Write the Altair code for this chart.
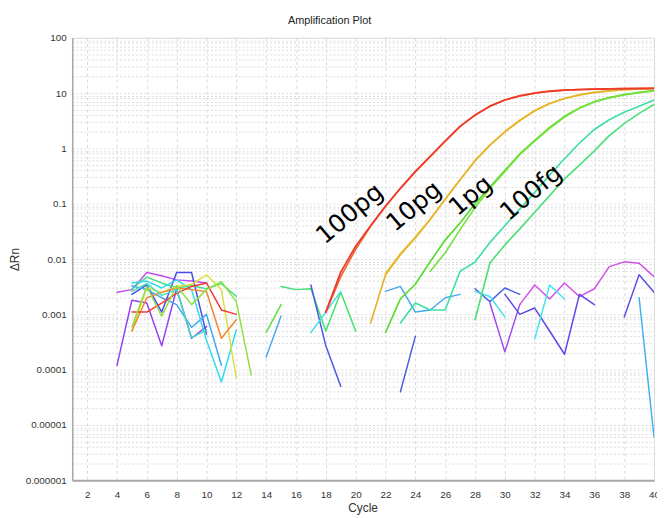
import altair as alt
import pandas as pd

# ---------------- data (cycle start, values per cycle) ----------------
# amplification curves
red_a_start = 18
red_a = [0.0011, 0.0058, 0.017, 0.04, 0.09, 0.19, 0.38, 0.72, 1.35, 2.5, 4.0, 5.8, 7.5, 8.9, 10.0,
         10.8, 11.3, 11.6, 11.8, 11.9, 12.0, 12.1, 12.2]
red_b_start = 18
red_b = [0.0011, 0.0048, 0.015, 0.039, 0.09, 0.19, 0.38, 0.72, 1.35, 2.5, 4.0, 5.8, 7.5, 8.9, 10.0,
         10.8, 11.3, 11.6, 11.8, 11.9, 12.0, 12.1, 12.2]
yel_a_start = 21
yel_a = [0.0007, 0.0052, 0.012, 0.024, 0.052, 0.12, 0.27, 0.6, 1.15, 2.0, 3.2, 4.8, 6.5, 8.0,
         9.3, 10.3, 11.0, 11.5, 11.9, 12.1]
yel_b_start = 22
yel_b = [0.0055, 0.0125, 0.025, 0.053, 0.12, 0.27, 0.6, 1.15, 2.0, 3.2, 4.8, 6.5, 8.0,
         9.3, 10.3, 11.0, 11.5, 11.9, 12.1]
g1_a_start = 22
g1_a = [0.00047, 0.0019, 0.0035, 0.009, 0.022, 0.045, 0.1, 0.2, 0.4, 0.8, 1.4, 2.4, 3.8, 5.4,
        7.0, 8.3, 9.4, 10.3, 11.1]
g1_b_start = 25
g1_b = [0.006, 0.013, 0.034, 0.085, 0.19, 0.38, 0.77, 1.35, 2.3, 3.7, 5.3, 6.9, 8.2, 9.3, 10.2, 11.0]
fg_a_start = 23
fg_a = [0.0007, 0.0016, 0.0012, 0.0012, 0.006, 0.0088, 0.02, 0.04, 0.08, 0.16, 0.33, 0.65, 1.25,
        2.2, 3.3, 4.5, 5.8, 7.5]
fg_b_start = 28
fg_b = [0.0008, 0.0085, 0.018, 0.035, 0.07, 0.14, 0.28, 0.5, 0.9, 1.7, 2.8, 4.3, 6.2]

# baseline noise, early cycles
n_magenta = (4, [0.0025, 0.0028, 0.0057, 0.005, 0.0042, 0.004, 0.0037])
n_violet = (4, [0.00012, 0.0018, 0.0016, 0.00027, 0.0029, 0.00037, 0.0006])
n_blue = (5, [0.0023, 0.0034, 0.0011, 0.0057, 0.0057, 0.00044])
n_green = (5, [0.0029, 0.0047, 0.0037, 0.003, 0.0033, 0.0029, 0.0036, 0.0021])
n_sky = (5, [0.0033, 0.0028, 0.002, 0.0015, 0.00058, 0.001, 0.00012])
n_cyan = (5, [0.0037, 0.004, 0.003, 0.0042, 0.0028, 0.00034, 0.00006, 0.00052])
n_yellow = (5, [0.0005, 0.003, 0.0025, 0.0032, 0.0035, 0.0052, 0.0028, 0.00007])
n_orange = (5, [0.0005, 0.002, 0.0025, 0.003, 0.0028, 0.0026, 0.00037, 0.0008])
n_red = (5, [0.0011, 0.0011, 0.0016, 0.0024, 0.0032, 0.0037, 0.0012, 0.001])
n_lime = (5, [0.0006, 0.0032, 0.00093, 0.0033, 0.0015, 0.0028, 0.0039, 0.0017, 0.00008])
n_teal = (5, [0.0026, 0.0036, 0.0022, 0.0028, 0.00038, 0.00052])

# baseline noise, later cycles
m_green1 = (14, [0.00047, 0.0015])
m_sky1 = (14, [0.00017, 0.00093])
m_green2 = (15, [0.0032, 0.0028, 0.0029, 0.0005, 0.0025, 0.0005])
m_blue1 = (17, [0.0034, 0.00027, 0.00005])
m_cyan1 = (17, [0.00047, 0.0011, 0.0026])
m_sky2 = (22, [0.0026, 0.0032, 0.0011, 0.0012, 0.002, 0.0023])
m_blue2 = (23, [0.00004, 0.0004])
m_blue3 = (28, [0.0029, 0.0017, 0.003, 0.0023])
m_cyan2 = (28, [0.0026, 0.0021, 0.0009])
m_violet = (29, [0.0016, 0.00021, 0.0015])
m_magenta = (31, [0.0015, 0.0034, 0.0019, 0.0037, 0.0021, 0.0029, 0.0073, 0.0089, 0.0084, 0.0048])
m_indigo1 = (30, [0.0023, 0.001, 0.0013, 0.0005, 0.00019, 0.0023, 0.0015])
m_cyan3 = (32, [0.00036, 0.0034, 0.0019])
m_indigo2 = (38, [0.0009, 0.0052, 0.0025])
m_sky3 = (39, [0.002, 0.000006])

labels = ["100pg", "10pg", "1pg", "100fg"]
label_cycle = [19.6, 23.9, 27.7, 31.75]
label_value = [0.066, 0.09, 0.14, 0.16]

y_decades = [100, 10, 1, 0.1, 0.01, 0.001, 0.0001, 0.00001, 0.000001]
x_ticks = list(range(2, 41, 2))

# ---------------- build table ----------------
series = [
    ("n_magenta", "#c04cf0", n_magenta, 1.5),
    ("n_violet", "#9540f0", n_violet, 1.5),
    ("n_blue", "#4a4af0", n_blue, 1.5),
    ("n_green", "#40e07e", n_green, 1.5),
    ("n_sky", "#40a6f0", n_sky, 1.5),
    ("n_cyan", "#30dcec", n_cyan, 1.5),
    ("n_yellow", "#dede3c", n_yellow, 1.5),
    ("n_orange", "#f08436", n_orange, 1.5),
    ("n_red", "#f03a38", n_red, 1.5),
    ("n_lime", "#8ce040", n_lime, 1.5),
    ("n_teal", "#40e0b8", n_teal, 1.5),
    ("m_green1", "#5ade40", m_green1, 1.5),
    ("m_sky1", "#4aa8f0", m_sky1, 1.5),
    ("m_green2", "#40e070", m_green2, 1.5),
    ("m_blue1", "#4858e0", m_blue1, 1.5),
    ("m_cyan1", "#40e0f0", m_cyan1, 1.5),
    ("m_sky2", "#48a8f0", m_sky2, 1.5),
    ("m_blue2", "#4860e0", m_blue2, 1.5),
    ("m_blue3", "#4a62e4", m_blue3, 1.5),
    ("m_cyan2", "#40e0ee", m_cyan2, 1.5),
    ("m_violet", "#a048f0", m_violet, 1.5),
    ("m_magenta", "#d050e8", m_magenta, 1.5),
    ("m_indigo1", "#5a48e8", m_indigo1, 1.5),
    ("m_cyan3", "#40e4f0", m_cyan3, 1.5),
    ("m_indigo2", "#5a50e8", m_indigo2, 1.5),
    ("m_sky3", "#40b0f0", m_sky3, 1.5),
    ("fg_a", "#40e0a4", (fg_a_start, fg_a), 1.7),
    ("fg_b", "#50e07a", (fg_b_start, fg_b), 1.7),
    ("g1_a", "#5adc30", (g1_a_start, g1_a), 1.7),
    ("g1_b", "#78e040", (g1_b_start, g1_b), 1.7),
    ("yel_b", "#e8c838", (yel_b_start, yel_b), 1.7),
    ("yel_a", "#e6b42c", (yel_a_start, yel_a), 1.7),
    ("red_b", "#f06a34", (red_b_start, red_b), 1.7),
    ("red_a", "#ee3a2a", (red_a_start, red_a), 1.8),
]

rows = []
for order, (sid, col, (start, vals), sw) in enumerate(series):
    for i, v in enumerate(vals):
        rows.append({"sid": sid, "color": col, "cycle": start + i, "value": v,
                     "ord": order, "sw": sw})
df = pd.DataFrame(rows)

lab_df = pd.DataFrame({"label": labels, "cycle": label_cycle, "value": label_value})

minor_vals = [d * m for d in y_decades[1:] for m in range(1, 10)] + [100]

xscale = alt.Scale(domain=[1, 40], nice=False, zero=False)
yscale = alt.Scale(type="log", domain=[0.000001, 100], nice=False)

dec_str = ",".join(repr(v) for v in y_decades)

lines = alt.Chart(df).mark_line(clip=True, strokeCap="round", strokeJoin="round").encode(
    x=alt.X("cycle:Q", scale=xscale,
            axis=alt.Axis(values=x_ticks, tickCount=60, format="d", title="Cycle", grid=True,
                          gridDash=[3, 3], gridColor="#d8d8d8", ticks=False, labelPadding=9,
                          labelFontSize=10, labelColor="#333", labelFont="Liberation Sans",
                          domainColor="#a8a8a8", domainWidth=2,
                          titleFont="Liberation Sans", titleFontSize=12,
                          titleFontWeight="normal", titleColor="#333",
                          titleX=294, titleY=28, titleBaseline="middle",
                          labelOverlap=False, labelFlush=False)),
    y=alt.Y("value:Q", scale=yscale,
            axis=alt.Axis(values=minor_vals, tickCount=200, title="ΔRn", grid=True,
                          gridDash=[2, 2], gridColor="#dcdcdc", ticks=False, labelPadding=6,
                          labelFontSize=10, labelColor="#333", labelFont="Liberation Sans",
                          format="~g",
                          labelExpr="indexof([" + dec_str + "], datum.value) >= 0 ? datum.label : ''",
                          labelOverlap=False,
                          domainColor="#a8a8a8", domainWidth=1.5,
                          titleFont="Liberation Sans", titleFontSize=12,
                          titleFontWeight="normal", titleColor="#333",
                          titleX=-58, titleY=224, titleAngle=270,
                          titleBaseline="middle", titleAlign="center")),
    color=alt.Color("color:N", scale=None),
    detail="sid:N",
    order=alt.Order("cycle:Q"),
    strokeWidth=alt.StrokeWidth("sw:Q", scale=None),
)

text = alt.Chart(lab_df).mark_text(angle=320, fontSize=25, font="DejaVu Sans",
                                   color="#000", align="center", baseline="middle").encode(
    x=alt.X("cycle:Q", scale=xscale),
    y=alt.Y("value:Q", scale=yscale),
    text="label:N",
)

chart = alt.layer(lines, text).properties(
    width=589, height=448,
    autosize=alt.AutoSizeParams(type="none"),
    padding={"left": 65, "top": 27, "right": 3, "bottom": 34},
    title=alt.TitleParams("Amplification Plot", fontSize=11, font="Liberation Sans",
                          fontWeight="normal", color="#222", anchor="middle",
                          dx=-34, offset=7),
).configure_view(stroke="#c8c8c8").configure(background="white")

chart.save("out.html", embed_options={"renderer": "svg", "actions": False})
